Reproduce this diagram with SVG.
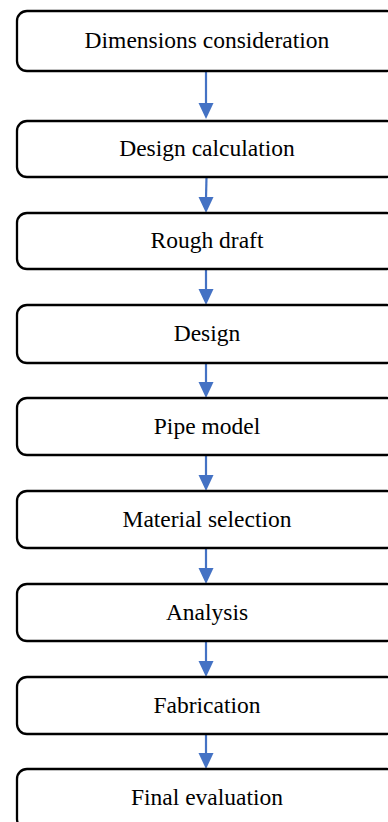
<svg xmlns="http://www.w3.org/2000/svg" width="388" height="822" viewBox="0 0 388 822">
<style>
.box{fill:#fff;stroke:#000;stroke-width:2.3}
.lbl{font-family:"Liberation Serif","Times New Roman",serif;font-size:23.5px;fill:#000;text-anchor:middle}
.con{stroke:#4472C4;stroke-width:2.2;fill:none}
.head{fill:#4472C4}
</style>
<rect width="388" height="822" fill="#fff"/>
<g id="connectors">
<line class="con" x1="206" y1="71" x2="206" y2="104"/><polygon class="head" points="198.5,103 213.5,103 206,119"/>
<line class="con" x1="206.5" y1="177" x2="206" y2="198"/><polygon class="head" points="198.5,197 213.5,197 206,213"/>
<line class="con" x1="206" y1="269" x2="206" y2="290"/><polygon class="head" points="198.5,289 213.5,289 206,305"/>
<line class="con" x1="206" y1="363" x2="206" y2="383"/><polygon class="head" points="198.5,382 213.5,382 206,398"/>
<line class="con" x1="206" y1="455" x2="206" y2="476"/><polygon class="head" points="198.5,475 213.5,475 206,491"/>
<line class="con" x1="206" y1="548" x2="206" y2="569"/><polygon class="head" points="198.5,568 213.5,568 206,584"/>
<line class="con" x1="206" y1="641" x2="206" y2="662"/><polygon class="head" points="198.5,661 213.5,661 206,677"/>
<line class="con" x1="206" y1="734" x2="206" y2="754"/><polygon class="head" points="198.5,753 213.5,753 206,769"/>
</g>
<g id="n1"><rect class="box" x="17" y="11" width="380" height="60" rx="10"/><text class="lbl" x="207" y="48">Dimensions consideration</text></g>
<g id="n2"><rect class="box" x="17" y="121" width="380" height="56" rx="10"/><text class="lbl" x="207" y="156">Design calculation</text></g>
<g id="n3"><rect class="box" x="17" y="213" width="380" height="56" rx="10"/><text class="lbl" x="207" y="248">Rough draft</text></g>
<g id="n4"><rect class="box" x="17" y="305" width="380" height="58" rx="10"/><text class="lbl" x="207" y="341">Design</text></g>
<g id="n5"><rect class="box" x="17" y="398" width="380" height="57" rx="10"/><text class="lbl" x="207" y="434">Pipe model</text></g>
<g id="n6"><rect class="box" x="17" y="491" width="380" height="57" rx="10"/><text class="lbl" x="207" y="527">Material selection</text></g>
<g id="n7"><rect class="box" x="17" y="584" width="380" height="57" rx="10"/><text class="lbl" x="207" y="620">Analysis</text></g>
<g id="n8"><rect class="box" x="17" y="677" width="380" height="57" rx="10"/><text class="lbl" x="207" y="713">Fabrication</text></g>
<g id="n9"><rect class="box" x="17" y="769" width="380" height="60" rx="10"/><text class="lbl" x="207" y="805">Final evaluation</text></g>
</svg>
